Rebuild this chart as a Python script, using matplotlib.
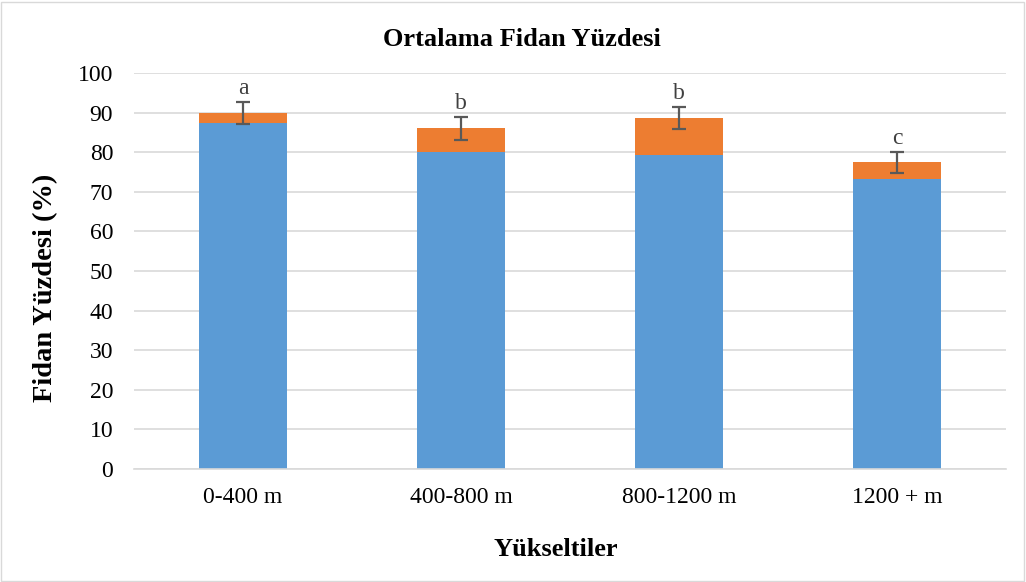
import matplotlib
matplotlib.use("Agg")
import matplotlib.pyplot as plt
from matplotlib.patches import Rectangle

categories = ["0-400 m", "400-800 m", "800-1200 m", "1200 + m"]
blue_vals = [87.5, 80.0, 79.3, 73.2]
orange_vals = [2.3, 6.0, 9.3, 4.2]
err_vals = [2.8, 2.8, 2.8, 2.7]
letters = ["a", "b", "b", "c"]
yticks = [0, 10, 20, 30, 40, 50, 60, 70, 80, 90, 100]

plt.rcParams['font.family'] = ['Liberation Serif', 'DejaVu Serif']

W, H = 1026, 582
fig = plt.figure(figsize=(W / 100, H / 100), dpi=100)
ax = fig.add_axes([134 / W, 1 - 469 / H, 872 / W, (469 - 73) / H])

x = list(range(len(categories)))
ax.bar(x, blue_vals, width=0.4, color="#5B9BD5", zorder=2)
tops = [b + o for b, o in zip(blue_vals, orange_vals)]
ax.bar(x, orange_vals, width=0.4, bottom=blue_vals, color="#ED7D31", zorder=2)
ax.errorbar(x, tops, yerr=err_vals, fmt="none", ecolor="#595959",
            elinewidth=1.6, capsize=4.7, capthick=1.6, zorder=3)
for xi, t, e, lab in zip(x, tops, err_vals, letters):
    ax.text(xi, t + e + 0.8, lab, ha="center", va="bottom", fontsize=17,
            color="#404040")

ax.set_xlim(-0.5, len(categories) - 0.5)
ax.set_ylim(0, 100)
ax.set_yticks(yticks)
ax.set_xticks(x)
ax.set_xticklabels(categories)
ax.tick_params(axis="both", length=0, labelsize=17, colors="#000000")
ax.tick_params(axis="y", pad=15)
ax.tick_params(axis="x", pad=13)
ax.grid(axis="y", color="#D9D9D9", linewidth=1.2, zorder=0)
for s in ["top", "right", "left"]:
    ax.spines[s].set_visible(False)
ax.spines["bottom"].set_color("#D9D9D9")
ax.spines["bottom"].set_linewidth(1.2)

fig.text(556 / W, 1 - 550 / H, "Yükseltiler", ha="center", va="center",
         fontsize=19, fontweight="bold")
fig.text(46 / W, 1 - 288 / H, "Fidan Yüzdesi (%)", ha="center", va="center",
         rotation=90, fontsize=20.5, fontweight="bold")
fig.text(522 / W, 1 - 40 / H, "Ortalama Fidan Yüzdesi", ha="center",
         va="center", fontsize=19, fontweight="bold")

fig.patches.append(Rectangle((1 / W, 1 / H), (W - 3) / W, (H - 3) / H,
                             transform=fig.transFigure, fill=False,
                             edgecolor="#D9D9D9", linewidth=1))

fig.savefig("out.png", dpi=100)
